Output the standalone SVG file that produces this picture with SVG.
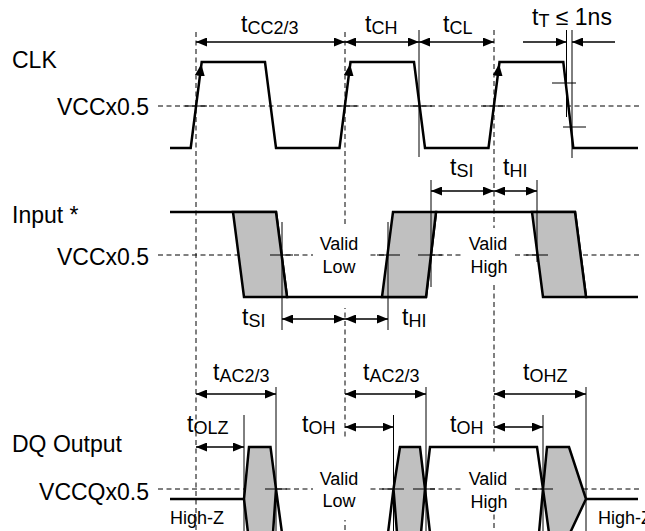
<svg xmlns="http://www.w3.org/2000/svg" width="645" height="531" viewBox="0 0 645 531">
<style>
.wave{stroke:#000;stroke-width:2.5;fill:none;stroke-linejoin:miter}
.shade{fill:#c0c0c0;stroke:none}
.shadeb{fill:#c0c0c0;stroke:#000;stroke-width:2.5;stroke-linejoin:miter}
.dash{stroke:#000;stroke-width:1;stroke-dasharray:5 3.5;fill:none}
.thin{stroke:#000;stroke-width:1;fill:none}
.dim{stroke:#000;stroke-width:1.3;fill:none;marker-start:url(#ah);marker-end:url(#ah)}
.dim1{stroke:#000;stroke-width:1.3;fill:none;marker-end:url(#ah)}
.edgearrow{stroke:none;fill:none;marker-end:url(#ahw)}
.bg{fill:#fff;stroke:none}
text{font-family:"Liberation Sans",Arial,Helvetica,sans-serif;fill:#000}
.lbl{font-size:23px}
.sm{font-size:18px}
.mid{text-anchor:middle}
.end{text-anchor:end}
</style>
<defs>
<marker id="ah" markerUnits="userSpaceOnUse" markerWidth="11" markerHeight="9" refX="11" refY="4.5" orient="auto-start-reverse" viewBox="0 0 11 9"><path d="M0,0 L11,4.5 L0,9 z" fill="#000"/></marker>
<marker id="ahw" markerUnits="userSpaceOnUse" markerWidth="12" markerHeight="10" refX="12" refY="5" orient="auto" viewBox="0 0 12 10"><path d="M0,0 L12,5 L0,10 z" fill="#000"/></marker>
</defs>

<g id="guides">
<path class="dash" d="M196,32 V531 M345,32 V531 M494,30 V531"/>
<path class="dash" d="M158,106 H640 M158,255 H640 M158,489 H640"/>
</g>

<g id="text-backgrounds">
<rect class="bg" x="313" y="227" width="54" height="81"/>
<rect class="bg" x="462" y="228" width="53" height="57"/>
<rect class="bg" x="313" y="440" width="54" height="80"/>
<rect class="bg" x="462" y="452" width="53" height="60"/>
</g>

<g id="signal-labels">
<text class="lbl" x="12" y="68">CLK</text>
<text class="lbl end" x="149" y="115">VCCx0.5</text>
<text class="lbl" x="12" y="223">Input *</text>
<text class="lbl end" x="149" y="265">VCCx0.5</text>
<text class="lbl" x="12" y="452">DQ Output</text>
<text class="lbl end" x="149" y="500">VCCQx0.5</text>
</g>

<g id="state-labels">
<text class="sm mid" x="339" y="250">Valid</text>
<text class="sm mid" x="339" y="273">Low</text>
<text class="sm mid" x="488" y="250">Valid</text>
<text class="sm mid" x="489" y="273">High</text>
<text class="sm mid" x="339" y="485">Valid</text>
<text class="sm mid" x="339" y="507">Low</text>
<text class="sm mid" x="488" y="485">Valid</text>
<text class="sm mid" x="489" y="508">High</text>
<text class="sm" x="170" y="524">High-Z</text>
<text class="sm" x="598" y="524">High-Z</text>
</g>

<g id="clk">
<path class="wave" d="M170,148 L190.7,148 L201.7,62 L265,62 L276,148 L339.5,148 L350.5,62 L414,62 L425,148 L488.5,148 L499.5,62 L563.3,62 L573.3,148 L638,148"/>
<path class="edgearrow" d="M196.2,106 L201.3,64"/>
<path class="edgearrow" d="M345,106 L350.1,64"/>
<path class="edgearrow" d="M494,106 L499.1,64"/>
<path class="thin" d="M185,106 H207 M337,106 H357 M410,106 H432 M483,106 H505 M552,83 H576 M563,127 H586"/>
</g>

<g id="input">
<path class="wave" d="M170,212 L276,212 L287,297 L426,297 L436,212 L575,212 L586,297 L638,297"/>
<path class="shadeb" d="M233,212 L276,212 L287,297 L244,297 Z"/>
<path class="shadeb" d="M382,297 L426,297 L436,212 L393,212 Z"/>
<path class="shadeb" d="M532,212 L575,212 L586,297 L543,297 Z"/>
<path class="thin" d="M270,255 H293 M377,255 H400 M418,255 H442 M526,255 H548"/>
</g>

<g id="dq">
<path class="shade" d="M244,499 L249,447 L270.5,447 L276,489 L273,531 L248,531 Z M393.5,489 L400,447 L420,447 L425,489 L421,531 L397,531 Z M543,489 L547,447 L569,447 L586,499 L570,531 L549,531 Z"/>
<path class="wave" d="M170,499 L244,499"/>
<path class="wave" d="M248,533 L244,499 L249,447 L270.5,447 L276,489 L282,533 M273,533 L276,489"/>
<path class="wave" d="M388,533 L393.5,489 L400,447 L420,447 L425,489 L430,533 M397,533 L393.5,489 M421,533 L425,489 L430,447 L537,447 L543,489 L549,533 M539,533 L543,489 L547,447 L569,447 L586,499 L570,533 M586,499 L638,499"/>
<path class="thin" d="M265,489 H287 M382,489 H404 M413,489 H435 M533,489 H553"/>
</g>

<g id="connectors">
<path class="thin" d="M419,30 V157 M566.5,30 V117 M572,30 V158"/>
<path class="thin" d="M282,222 V330 M388,222 V330 M431,180 V287 M537,180 V262"/>
<path class="thin" d="M244,415 V531 M276,387 V531 M393.5,415 V531 M426,387 V531 M543,415 V531 M586,387 V531"/>
<path class="dim" d="M196,42 H345"/>
<path class="dim" d="M345,42 H419"/>
<path class="dim" d="M419,42 H494"/>
<path class="dim1" d="M523,42 H566.5"/>
<path class="dim1" d="M615,42 H572"/>
<path class="dim" d="M431,191 H494"/>
<path class="dim" d="M494,191 H537"/>
<path class="dim" d="M282,319 H345"/>
<path class="dim" d="M345,319 H388"/>
<path class="dim" d="M196,394 H276"/>
<path class="dim" d="M345,394 H426"/>
<path class="dim" d="M494,394 H586"/>
<path class="dim" d="M196,447 H244"/>
<path class="dim" d="M345,427 H393.5"/>
<path class="dim" d="M494,427 H543"/>
</g>

<g id="timing-labels">
<text class="lbl" x="241" y="32">t<tspan class="sm" dy="2">CC2/3</tspan></text>
<text class="lbl" x="365" y="32">t<tspan class="sm" dy="2">CH</tspan></text>
<text class="lbl" x="443" y="32">t<tspan class="sm" dy="2">CL</tspan></text>
<text class="lbl" x="532" y="25">t<tspan class="sm" dy="2">T</tspan><tspan dy="-2"> ≤ 1ns</tspan></text>
<text class="lbl" x="450" y="175">t<tspan class="sm" dy="2">SI</tspan></text>
<text class="lbl" x="503" y="175">t<tspan class="sm" dy="2">HI</tspan></text>
<text class="lbl" x="242" y="325">t<tspan class="sm" dy="2">SI</tspan></text>
<text class="lbl" x="402" y="325">t<tspan class="sm" dy="2">HI</tspan></text>
<text class="lbl" x="213" y="380">t<tspan class="sm" dy="2">AC2/3</tspan></text>
<text class="lbl" x="363" y="380">t<tspan class="sm" dy="2">AC2/3</tspan></text>
<text class="lbl" x="523" y="380">t<tspan class="sm" dy="2">OHZ</tspan></text>
<text class="lbl" x="187" y="432">t<tspan class="sm" dy="2">OLZ</tspan></text>
<text class="lbl" x="302" y="432">t<tspan class="sm" dy="2">OH</tspan></text>
<text class="lbl" x="450" y="432">t<tspan class="sm" dy="2">OH</tspan></text>
</g>
</svg>
